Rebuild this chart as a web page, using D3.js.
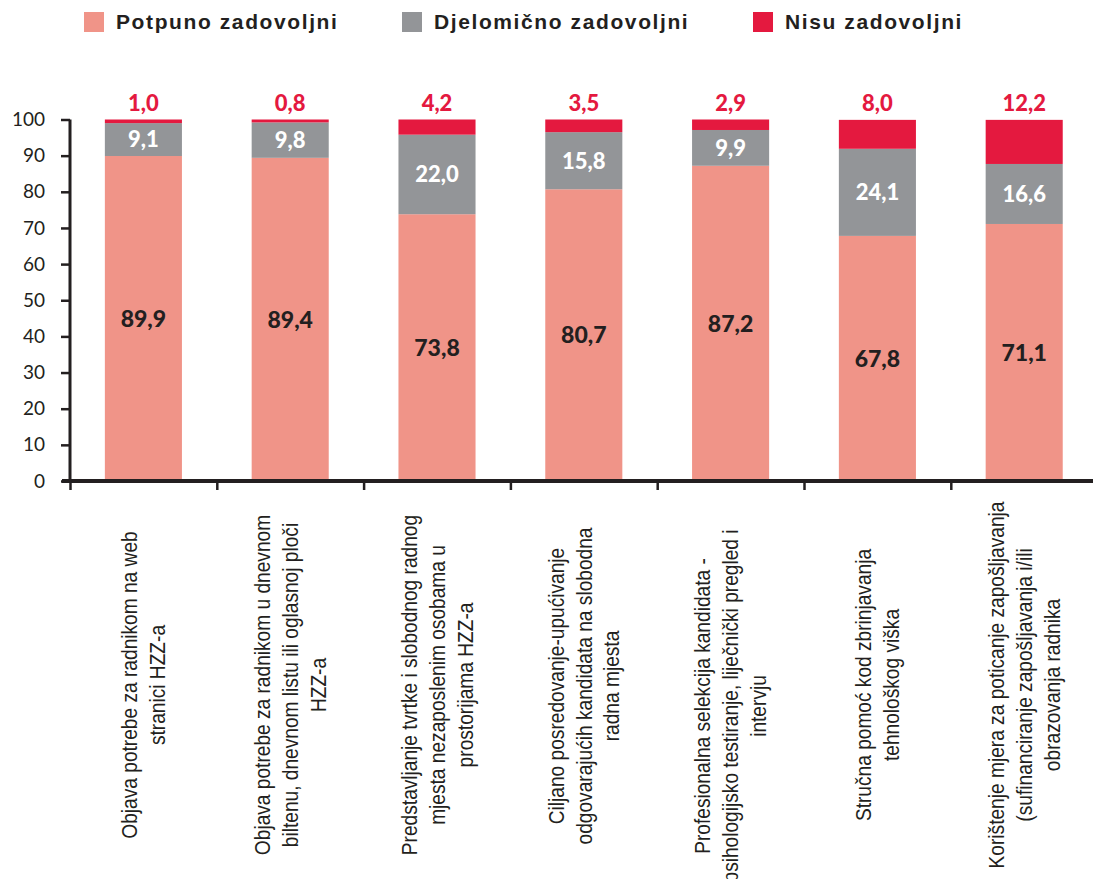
<!DOCTYPE html>
<html><head><meta charset="utf-8">
<script src="https://cdn.jsdelivr.net/npm/d3@7"></script>
<style>
html,body{margin:0;padding:0;background:#fff;}
svg{display:block;}
</style></head><body>
<script>
const categories = [
  ["Objava potrebe za radnikom na web", "stranici HZZ-a"],
  ["Objava potrebe za radnikom u dnevnom", "biltenu, dnevnom listu ili oglasnoj ploči", "HZZ-a"],
  ["Predstavljanje tvrtke i slobodnog radnog", "mjesta nezaposlenim osobama u", "prostorijama HZZ-a"],
  ["Ciljano posredovanje-upućivanje", "odgovarajućih kandidata na slobodna", "radna mjesta"],
  ["Profesionalna selekcija kandidata -", "psihologijsko testiranje, liječnički pregled i", "intervju"],
  ["Stručna pomoć kod zbrinjavanja", "tehnološkog viška"],
  ["Korištenje mjera za poticanje zapošljavanja", "(sufinanciranje zapošljavanja i/ili", "obrazovanja radnika"]
];
const seriesNames = ["Potpuno zadovoljni", "Djelomično zadovoljni", "Nisu zadovoljni"];
const potpuno = [89.9, 89.4, 73.8, 80.7, 87.2, 67.8, 71.1];
const djelomicno = [9.1, 9.8, 22.0, 15.8, 9.9, 24.1, 16.6];
const nisu = [1.0, 0.8, 4.2, 3.5, 2.9, 8.0, 12.2];
const yTicks = [0, 10, 20, 30, 40, 50, 60, 70, 80, 90, 100];

const colors = ["#f09488", "#939598", "#e4193f"];
const labelCenterY = [685, 685, 685, 686, 706, 685, 685];

const W = 1093, H = 879;
const svg = d3.select("body").append("svg").attr("width", W).attr("height", H);

const keys = ["p", "d", "n"];
const rows = categories.map((c, i) => ({idx: i, p: potpuno[i], d: djelomicno[i], n: nisu[i]}));
const stack = d3.stack().keys(keys)(rows);

const x = d3.scaleBand().domain(d3.range(categories.length)).range([70, 1097.6])
  .paddingInner(0.475).paddingOuter(0.2375);
const y = d3.scaleLinear().domain([0, 100]).range([481, 119.5]);

// bars
stack.forEach((layer, li) => {
  svg.append("g").selectAll("rect").data(layer).join("rect")
    .attr("x", d => x(d.data.idx))
    .attr("width", x.bandwidth())
    .attr("y", d => y(d[1]))
    .attr("height", d => y(d[0]) - y(d[1]))
    .attr("fill", colors[li]);
});

const fmt = v => v.toFixed(1).replace(".", ",");
const lblFont = "Lato, 'Open Sans', sans-serif";

svg.append("g").selectAll("text").data(stack[0]).join("text")
  .attr("x", d => x(d.data.idx) + x.bandwidth() / 2)
  .attr("y", d => (y(d[0]) + y(d[1])) / 2)
  .attr("dy", "0.36em")
  .attr("text-anchor", "middle")
  .style("font-family", lblFont).style("font-weight", "900").style("font-size", "23px")
  .attr("fill", "#231f20")
  .text(d => fmt(d.data.p));
svg.append("g").selectAll("text").data(stack[1]).join("text")
  .attr("x", d => x(d.data.idx) + x.bandwidth() / 2)
  .attr("y", d => (y(d[0]) + y(d[1])) / 2)
  .attr("dy", "0.36em")
  .attr("text-anchor", "middle")
  .style("font-family", lblFont).style("font-weight", "900").style("font-size", "22px")
  .attr("fill", "#ffffff")
  .text(d => fmt(d.data.d));
svg.append("g").selectAll("text").data(stack[2]).join("text")
  .attr("x", d => x(d.data.idx) + x.bandwidth() / 2)
  .attr("y", y(100) - 16)
  .attr("dy", "0.36em")
  .attr("text-anchor", "middle")
  .style("font-family", lblFont).style("font-weight", "900").style("font-size", "22px")
  .attr("fill", colors[2])
  .text(d => fmt(d.data.n));

// y axis
const yAxis = svg.append("g").attr("transform", "translate(70,0)")
  .call(d3.axisLeft(y).tickValues(yTicks).tickSize(9).tickPadding(16).tickFormat(d3.format("d")));
yAxis.select(".domain").attr("stroke", "#231f20").attr("stroke-width", 3).attr("d", `M0,${y(100)}V${y(0)}`);
yAxis.selectAll(".tick line").attr("stroke", "#231f20").attr("stroke-width", 2.5);
yAxis.selectAll(".tick text").style("font-family", lblFont).style("font-size", "19px").attr("fill", "#231f20");

// x axis
const step = x.step();
const xb = d3.scaleLinear().domain([0, categories.length]).range([70, 70 + step * categories.length]);
const xAxis = svg.append("g").attr("transform", `translate(0,${y(0)})`)
  .call(d3.axisBottom(xb).tickValues(d3.range(categories.length + 1)).tickSize(9).tickFormat(""));
xAxis.select(".domain").attr("stroke", "#231f20").attr("stroke-width", 4).attr("d", `M62,0H${W + 10}`);
xAxis.selectAll(".tick line").attr("stroke", "#231f20").attr("stroke-width", 2.5);

// category labels (rotated, condensed)
const lh = 28;
categories.forEach((lines, i) => {
  const cx = x(i) + x.bandwidth() / 2;
  const cy = labelCenterY[i];
  const g = svg.append("g").attr("transform", `translate(${cx},${cy}) rotate(-90) scale(0.87,1)`);
  const n = lines.length;
  lines.forEach((t, j) => {
    g.append("text")
      .attr("x", 0)
      .attr("y", (j - (n - 1) / 2) * lh)
      .attr("dy", "0.35em")
      .attr("text-anchor", "middle")
      .style("font-family", "'Liberation Sans', Arial, sans-serif")
      .style("font-size", "22px")
      .attr("fill", "#231f20")
      .text(t);
  });
});

// legend
const legTextX = [116, 434, 785];
const leg = svg.append("g");
seriesNames.forEach((s, i) => {
  leg.append("rect").attr("x", legTextX[i] - 32).attr("y", 12).attr("width", 20).attr("height", 20).attr("fill", colors[i]);
  leg.append("text").attr("x", legTextX[i]).attr("y", 28.5)
    .style("font-family", "'Liberation Sans', Arial, sans-serif").style("font-weight", "bold").style("font-size", "21px")
    .style("letter-spacing", "1.6px")
    .attr("fill", "#231f20").text(s);
});
</script>
</body></html>
